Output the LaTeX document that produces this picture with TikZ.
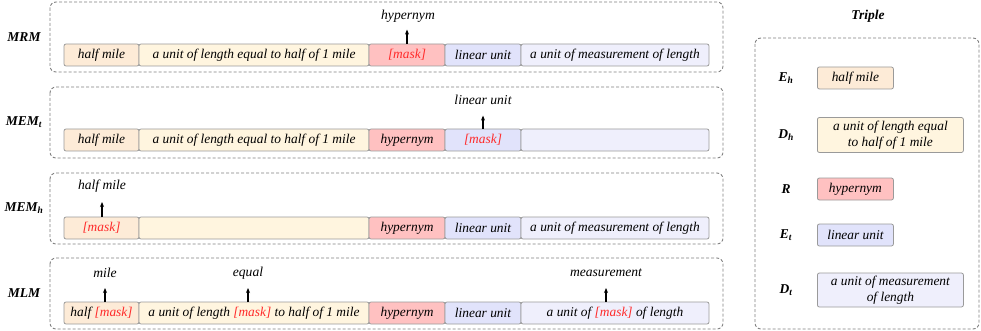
\documentclass[tikz,border=0pt]{standalone}
\usepackage{fontspec}
\setmainfont{Liberation Serif}
\usetikzlibrary{arrows.meta}
\definecolor{cEh}{HTML}{FDEBD7}
\definecolor{cDh}{HTML}{FFF5DF}
\definecolor{cR}{HTML}{FFC1C1}
\definecolor{cEt}{HTML}{E1E3FB}
\definecolor{cDt}{HTML}{EFEFFC}
\definecolor{cBorder}{HTML}{9A9A9A}
\definecolor{cDash}{HTML}{808080}
\definecolor{cMask}{HTML}{FF2A2A}
\newcommand{\mk}{\textcolor{cMask}{[mask]}}
\newcommand{\sbt}[1]{\textsubscript{#1}}
\tikzset{
  tok/.style={draw=cBorder, line width=0.8pt, rounded corners=2pt, minimum height=22pt, inner sep=0pt, font=\fontsize{13.4}{15.5}\selectfont\itshape},
  panel/.style={draw=cDash, line width=0.9pt, dashed, dash pattern=on 3pt off 2pt, rounded corners=6pt},
  rowlabel/.style={font=\fontsize{13.5}{15}\selectfont\bfseries\itshape, inner sep=0pt},
  outlabel/.style={font=\fontsize{13.6}{15}\selectfont\itshape, inner sep=0pt},
  arr/.style={-{Stealth[length=5pt,width=4pt]}, line width=1.1pt},
}
\begin{document}
\begin{tikzpicture}[x=1pt,y=-1pt]
\useasboundingbox (0,0) rectangle (981,331);

% ---------- Row 1: MRM ----------
\draw[panel] (50,2) rectangle (723,72);
\node[rowlabel] (l1) at (24,37) {MRM};
\node[tok, fill=cEh, minimum width=75pt] (r1a) at (101.5,55) {half mile};
\node[tok, fill=cDh, minimum width=230pt] (r1b) at (254,55) {a unit of length equal to half of 1 mile};
\node[tok, fill=cR, minimum width=76pt] (r1c) at (407,55) {\mk};
\node[tok, fill=cEt, minimum width=76pt] (r1d) at (483,55) {linear unit};
\node[tok, fill=cDt, minimum width=188pt] (r1e) at (615,55) {a unit of measurement of length};
\node[outlabel] (o1) at (408,16) {hypernym};
\draw[arr] (r1c.north) -- ++(0,-14);

% ---------- Row 2: MEM_t ----------
\draw[panel] (50,87) rectangle (723,158);
\node[rowlabel] (l2) at (24,122) {MEM\sbt{t}};
\node[tok, fill=cEh, minimum width=75pt] (r2a) at (101.5,140) {half mile};
\node[tok, fill=cDh, minimum width=230pt] (r2b) at (254,140) {a unit of length equal to half of 1 mile};
\node[tok, fill=cR, minimum width=76pt] (r2c) at (407,140) {hypernym};
\node[tok, fill=cEt, minimum width=76pt] (r2d) at (483,140) {\mk};
\node[tok, fill=cDt, minimum width=188pt] (r2e) at (615,140) {};
\node[outlabel] (o2) at (483,100) {linear unit};
\draw[arr] (r2d.north) -- ++(0,-13);

% ---------- Row 3: MEM_h ----------
\draw[panel] (50,173) rectangle (723,244);
\node[rowlabel] (l3) at (24,208) {MEM\sbt{h}};
\node[tok, fill=cEh, minimum width=75pt] (r3a) at (101.5,228) {\mk};
\node[tok, fill=cDh, minimum width=230pt] (r3b) at (254,228) {};
\node[tok, fill=cR, minimum width=76pt] (r3c) at (407,228) {hypernym};
\node[tok, fill=cEt, minimum width=76pt] (r3d) at (483,228) {linear unit};
\node[tok, fill=cDt, minimum width=188pt] (r3e) at (615,228) {a unit of measurement of length};
\node[outlabel] (o3) at (102,186) {half mile};
\coordinate (a3) at (102,217);
\draw[arr] (a3) -- ++(0,-15);

% ---------- Row 4: MLM ----------
\draw[panel] (50,258) rectangle (723,329);
\node[rowlabel] (l4) at (24,293) {MLM};
\node[tok, fill=cEh, minimum width=75pt] (r4a) at (101.5,313) {half \mk};
\node[tok, fill=cDh, minimum width=230pt] (r4b) at (254,313) {a unit of length \mk{} to half of 1 mile};
\node[tok, fill=cR, minimum width=76pt] (r4c) at (407,313) {hypernym};
\node[tok, fill=cEt, minimum width=76pt] (r4d) at (483,313) {linear unit};
\node[tok, fill=cDt, minimum width=188pt] (r4e) at (615,313) {a unit of \mk{} of length};
\node[outlabel] (o4a) at (105,273) {mile};
\node[outlabel] (o4b) at (248,273) {equal};
\node[outlabel] (o4c) at (606,273) {measurement};
\coordinate (a4a) at (105,302);
\coordinate (a4b) at (248,302);
\coordinate (a4c) at (606,302);
\draw[arr] (a4a) -- ++(0,-14);
\draw[arr] (a4b) -- ++(0,-14);
\draw[arr] (a4c) -- ++(0,-14);

% ---------- Triple panel ----------
\node[rowlabel] (tt) at (868,16) {Triple};
\draw[panel] (755,38) rectangle (979,329);
\node[rowlabel] (kEh) at (786,78) {E\sbt{h}};
\node[rowlabel] (kDh) at (786,135) {D\sbt{h}};
\node[rowlabel] (kR) at (786,189) {R};
\node[rowlabel] (kEt) at (786,235) {E\sbt{t}};
\node[rowlabel] (kDt) at (786,290) {D\sbt{t}};
\node[tok, fill=cEh, minimum width=76pt, anchor=west] (tEh) at (817,78) {half mile};
\node[tok, fill=cDh, minimum width=146pt, minimum height=35pt, anchor=west, align=center] (tDh) at (817,135) {a unit of length equal\\to half of 1 mile};
\node[tok, fill=cR, minimum width=76pt, anchor=west] (tR) at (817,189) {hypernym};
\node[tok, fill=cEt, minimum width=76pt, anchor=west] (tEt) at (817,235) {linear unit};
\node[tok, fill=cDt, minimum width=146pt, minimum height=34pt, anchor=west, align=center] (tDt) at (817,290) {a unit of measurement\\of length};
\end{tikzpicture}
\end{document}
